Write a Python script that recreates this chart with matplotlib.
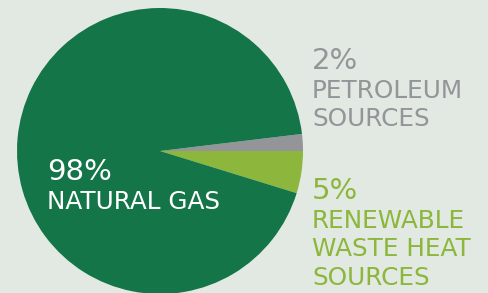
import matplotlib
matplotlib.use("Agg")
import matplotlib.pyplot as plt

# slice values as printed on the chart (pie normalises them)
sources = ["Renewable waste heat", "Petroleum", "Natural gas"]
shares = [5, 2, 98]
pct_labels = ["5%", "2%", "98%"]
name_labels = ["RENEWABLE\nWASTE HEAT\nSOURCES", "PETROLEUM\nSOURCES", "NATURAL GAS"]

BG = "#e2e9e3"
DARK_GREEN = "#137548"
LIGHT_GREEN = "#8cb63c"
GREY = "#939598"
colors = [LIGHT_GREEN, GREY, DARK_GREEN]

W, H = 488, 293
fig = plt.figure(figsize=(W / 100, H / 100), dpi=100, facecolor=BG)
ax = fig.add_axes([0, 0, 1, 1])
ax.set_facecolor(BG)

start = -shares[0] / sum(shares) * 360
ax.pie(shares, colors=colors, startangle=start, counterclock=True,
       center=(160, H - 151), radius=143,
       wedgeprops=dict(linewidth=0))
ax.set_xlim(0, W)
ax.set_ylim(0, H)
ax.set_aspect("equal")
ax.axis("off")

font = "DejaVu Sans"
big, small = 21, 17.8
line = 28.5

# natural gas, inside the pie
ax.text(47, H - 180, pct_labels[2], color="white", fontsize=big, family=font)
ax.text(47, H - 209, name_labels[2], color="white", fontsize=small, family=font)

# petroleum
ax.text(312, H - 69, pct_labels[1], color=GREY, fontsize=big, family=font)
for i, s in enumerate(name_labels[1].split("\n")):
    ax.text(312, H - 98 - i * line, s, color=GREY, fontsize=small, family=font)

# renewable
ax.text(312, H - 199, pct_labels[0], color=LIGHT_GREEN, fontsize=big, family=font)
for i, s in enumerate(name_labels[0].split("\n")):
    ax.text(312, H - 228 - i * line, s, color=LIGHT_GREEN, fontsize=small, family=font)

fig.savefig("out.png", dpi=100, facecolor=BG)
